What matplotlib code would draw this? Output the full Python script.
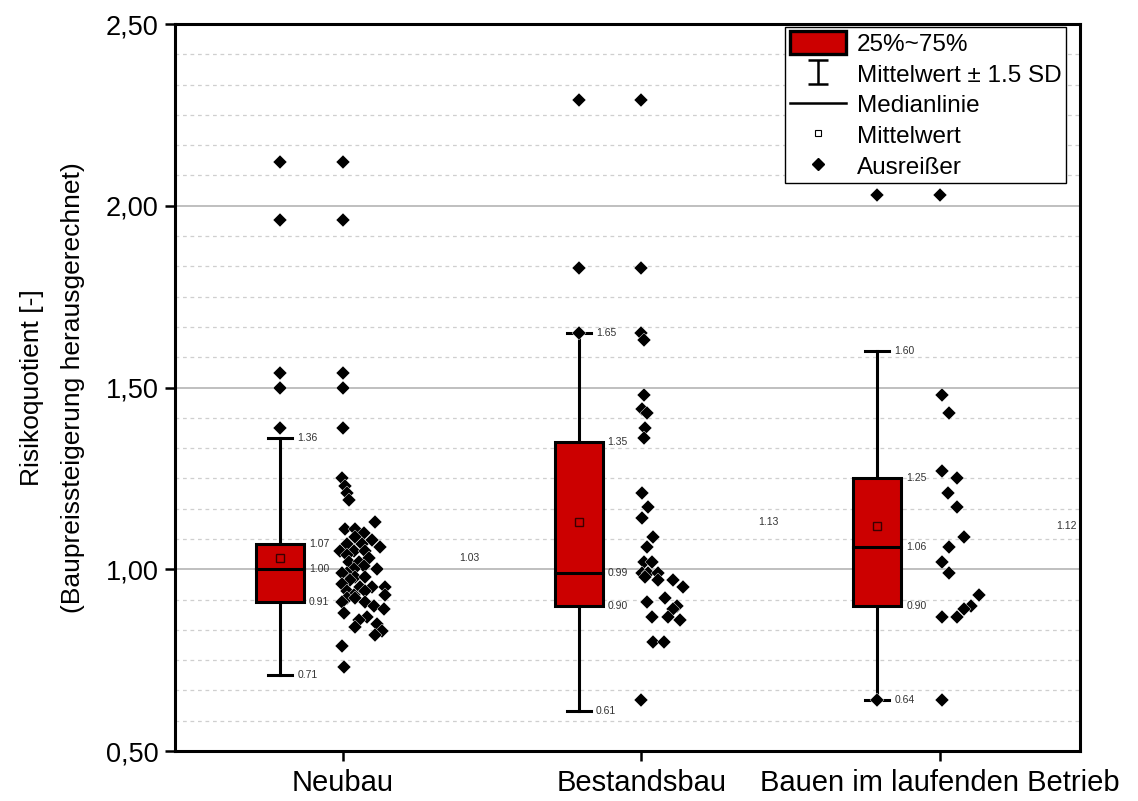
import numpy as np
import matplotlib
matplotlib.use('Agg')
import matplotlib.pyplot as plt
from matplotlib.patches import Patch
from matplotlib.lines import Line2D
from matplotlib.ticker import MultipleLocator, FuncFormatter

plt.rcParams['font.family'] = ['Liberation Sans', 'DejaVu Sans']

# box statistics per category
categories = ['Neubau', 'Bestandsbau', 'Bauen im laufenden Betrieb']
q1 = [0.91, 0.90, 0.90]
median = [1.00, 0.99, 1.06]
q3 = [1.07, 1.35, 1.25]
mean = [1.03, 1.13, 1.12]
whisker_lo = [0.71, 0.61, 0.64]
whisker_hi = [1.36, 1.65, 1.60]
outliers = [[2.12, 1.96, 1.54, 1.50, 1.39],
            [2.29, 1.83, 1.65],
            [2.03, 0.64]]

# raw data points (overlaid) and their horizontal jitter
neubau_vals = [2.12, 1.96, 1.54, 1.50, 1.39, 1.25, 1.23, 1.21, 1.19, 1.13,
               1.11, 1.11, 1.10, 1.09, 1.08, 1.07, 1.07, 1.06, 1.05, 1.05,
               1.05, 1.04, 1.03, 1.02, 1.02, 1.01, 1.00, 1.00, 0.99, 0.99,
               0.98, 0.98, 0.97, 0.96, 0.95, 0.95, 0.95, 0.94, 0.94, 0.93,
               0.93, 0.92, 0.92, 0.91, 0.91, 0.90, 0.89, 0.88, 0.87, 0.86,
               0.85, 0.84, 0.83, 0.82, 0.79, 0.73]
neubau_jit = [0.0, 0.0, 0.0, 0.0, 0.0, -0.003, 0.007, 0.013, 0.02, 0.107,
              0.007, 0.04, 0.07, 0.04, 0.097, 0.013, 0.064, 0.124, -0.01, 0.037,
              0.074, 0.013, 0.087, 0.02, 0.054, 0.07, 0.114, 0.037, 0.013, -0.003,
              0.04, 0.074, 0.023, -0.003, 0.097, 0.14, 0.057, 0.074, 0.013, 0.14,
              0.037, 0.013, 0.04, 0.074, -0.003, 0.104, 0.137, 0.003, 0.08, 0.054,
              0.114, 0.04, 0.13, 0.107, -0.003, 0.003]

bestand_vals = [2.29, 1.83, 1.65, 1.63, 1.48, 1.44, 1.43, 1.39, 1.36, 1.21,
                1.17, 1.14, 1.09, 1.06, 1.02, 1.02, 0.99, 0.99, 0.99, 0.98,
                0.97, 0.97, 0.95, 0.92, 0.91, 0.90, 0.89, 0.87, 0.87, 0.86,
                0.80, 0.80, 0.64]
bestand_jit = [0.0, 0.0, -0.003, 0.007, 0.007, 0.003, 0.02, 0.013, 0.007, 0.003,
               0.023, 0.003, 0.04, 0.02, 0.007, 0.037, 0.003, 0.023, 0.057, 0.013,
               0.054, 0.107, 0.14, 0.08, 0.02, 0.12, 0.107, 0.037, 0.09, 0.13,
               0.04, 0.074, 0.0]

betrieb_vals = [2.03, 1.48, 1.43, 1.27, 1.25, 1.21, 1.17, 1.09, 1.06, 1.02,
                0.99, 0.93, 0.90, 0.89, 0.87, 0.87, 0.64]
betrieb_jit = [0.0, 0.007, 0.03, 0.007, 0.057, 0.027, 0.057, 0.08, 0.03, 0.007,
               0.03, 0.13, 0.104, 0.08, 0.057, 0.007, 0.007]

raw_vals = [neubau_vals, bestand_vals, betrieb_vals]
raw_jit = [neubau_jit, bestand_jit, betrieb_jit]

box_color = '#cc0000'
box_shift = -0.21
box_w = 0.16
cap_w = 0.08
lw = 2.2
dia = dict(marker='D', ms=7.2, color='k', mec='white', mew=0.3, ls='none', zorder=6)

fig = plt.figure(figsize=(11.38, 8.01), dpi=100)
ax = fig.add_axes([0.1538, 0.0624, 0.7953, 0.9076])

pos = np.arange(1, len(categories) + 1)

for i, p in enumerate(pos):
    bx = p + box_shift
    # whiskers
    ax.plot([bx, bx], [whisker_lo[i], q1[i]], color='k', lw=lw, zorder=3)
    ax.plot([bx, bx], [q3[i], whisker_hi[i]], color='k', lw=lw, zorder=3)
    ax.plot([bx - cap_w / 2, bx + cap_w / 2], [whisker_lo[i]] * 2, color='k', lw=lw, zorder=3)
    ax.plot([bx - cap_w / 2, bx + cap_w / 2], [whisker_hi[i]] * 2, color='k', lw=lw, zorder=3)
    # box
    ax.bar(bx, q3[i] - q1[i], bottom=q1[i], width=box_w, color=box_color,
           edgecolor='k', linewidth=lw, zorder=4)
    ax.plot([bx - box_w / 2, bx + box_w / 2], [median[i]] * 2, color='k', lw=lw, zorder=5)
    ax.plot(bx, mean[i], marker='s', ms=5.5, mfc='none', mec='#3a0000', mew=1.0,
            ls='none', zorder=6)
    # outliers
    ax.plot([bx] * len(outliers[i]), outliers[i], **dia)
    # raw data
    ax.plot(p + np.array(raw_jit[i]), raw_vals[i], **dia)

    # value labels
    lbl = dict(fontsize=7.5, color='#333333', va='center', ha='left', zorder=7)
    ax.text(bx + 0.057, whisker_hi[i], f'{whisker_hi[i]:.2f}', **lbl)
    ax.text(bx + 0.057, whisker_lo[i], f'{whisker_lo[i]:.2f}', **lbl)
    ax.text(bx + 0.097, q3[i], f'{q3[i]:.2f}', **lbl)
    ax.text(bx + 0.097, median[i], f'{median[i]:.2f}', **lbl)
    ax.text(bx + 0.097, q1[i], f'{q1[i]:.2f}', **lbl)
    ax.text(p + 0.425, mean[i], f'{mean[i]:.2f}', fontsize=7.5, color='#333333',
            va='center', ha='center')

ax.set_xlim(0.438, 3.469)
ax.set_ylim(0.5, 2.5)
ax.set_xticks(pos)
ax.set_xticklabels(categories, fontsize=21)
ax.yaxis.set_major_locator(MultipleLocator(0.5))
ax.yaxis.set_minor_locator(MultipleLocator(0.5 / 6))
ax.yaxis.set_major_formatter(FuncFormatter(lambda v, _: f'{v:.2f}'.replace('.', ',')))
ax.tick_params(axis='y', which='major', labelsize=19.5, length=7, width=1.8,
               direction='out', pad=5)
ax.tick_params(axis='y', which='minor', length=0)
ax.tick_params(axis='x', length=7, width=1.8, direction='out', pad=6)

ax.grid(axis='y', which='major', color='#b4b4b4', lw=1.2, zorder=0)
ax.grid(axis='y', which='minor', color='#cfcfcf', lw=0.9, ls=(0, (3, 3)), zorder=0)
ax.set_axisbelow(True)

for s in ax.spines.values():
    s.set_linewidth(2.2)

ax.set_ylabel('Risikoquotient [-]\n(Baupreissteigerung herausgerechnet)', fontsize=19,
              labelpad=15, linespacing=1.85)

# legend
h_box = Patch(facecolor=box_color, edgecolor='k', linewidth=2.4)
h_err = ax.errorbar([np.nan], [np.nan], yerr=[0.1], fmt='none', ecolor='k',
                    elinewidth=1.8, capsize=7, capthick=1.8)
h_med = Line2D([], [], color='k', lw=1.8)
h_mean = Line2D([], [], marker='s', ms=5, mfc='white', mec='k', mew=0.8, ls='none')
h_out = Line2D([], [], marker='D', ms=6.6, color='k', ls='none')
leg = ax.legend([h_box, h_err, h_med, h_mean, h_out],
                ['25%~75%', 'Mittelwert ± 1.5 SD', 'Medianlinie', 'Mittelwert', 'Ausreißer'],
                loc='upper right', bbox_to_anchor=(0.9845, 0.9965), fontsize=17.5,
                frameon=True, fancybox=False, edgecolor='k', framealpha=1,
                handlelength=2.3, handleheight=1.05, handletextpad=0.45, labelspacing=0.25,
                borderpad=0.2, borderaxespad=0)
leg.get_frame().set_linewidth(1.0)

fig.savefig('out.png', dpi=100)
